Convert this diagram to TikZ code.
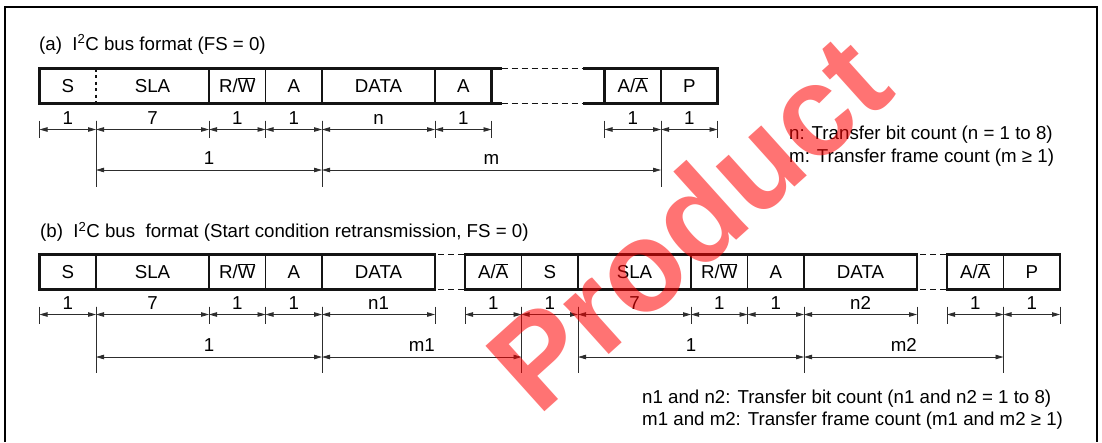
\documentclass[tikz,border=0pt]{standalone}
\usepackage{fontspec}
\setmainfont{Liberation Sans}
\usepackage{tikz}
\usetikzlibrary{arrows.meta,positioning,calc}
\definecolor{negro}{RGB}{20,20,20}
\definecolor{grisosc}{RGB}{45,45,45}
\definecolor{rojo}{RGB}{255,0,0}
\newcommand{\fuente}{\fontsize{18.7pt}{22pt}\selectfont}
\newcommand{\barra}[1]{$\overline{\mbox{#1}}$}
\tikzset{
  celda/.style={draw=negro,line width=1.2pt,minimum width=56.5pt,minimum height=35pt,inner sep=0pt,outer sep=0pt,text height=13.4pt,text depth=0pt},
  celdasin/.style={celda,draw=none},
  doble/.style={minimum width=113pt},
  contorno/.style={draw=negro,line width=2.2pt},
  punteada/.style={draw=negro,line width=1.6pt,dash pattern=on 3pt off 3.5pt},
  hueco/.style={draw=negro,line width=1pt,dash pattern=on 6pt off 4pt,dash phase=7pt},
  marco/.style={draw=black,line width=2.8pt},
  cota/.style={draw=grisosc,line width=0.8pt},
  flecha/.style={cota,{Triangle[length=8pt,width=4.5pt]}-{Triangle[length=8pt,width=4.5pt]}},
  etiqueta/.style={midway,anchor=base,yshift=5.5pt,inner sep=0pt},
  etiqueta2/.style={midway,anchor=base,yshift=6pt,inner sep=0pt},
  titulo/.style={anchor=base west,inner sep=0pt},
  nota/.style={anchor=base west,inner sep=0pt},
  marcaagua/.style={text=rojo,text opacity=0.55,font=\fontsize{128pt}{128pt}\selectfont\bfseries,rotate=42,inner sep=0pt}
}
\begin{document}
\begin{tikzpicture}[x=1pt,y=-1pt,font=\fuente]
\useasboundingbox (0,0) rectangle (1102,442);
\draw[marco] (5,442) -- (5,7) -- (1097,7) -- (1097,442);

\node[titulo] (tituloA) at (39,50) {(a)~~I\textsuperscript{2}C bus format (FS = 0)};
\node[celdasin,anchor=west] (a1) at (39.5,86) {S};
\node[celdasin,doble,right=0pt of a1] (a2) {SLA};
\node[celda,right=0pt of a2] (a3) {R/\barra{W}};
\node[celda,right=0pt of a3] (a4) {A};
\node[celda,doble,right=0pt of a4] (a5) {DATA};
\node[celda,right=0pt of a5] (a6) {A};
\node[celda,right=113pt of a6] (a7) {A/\barra{A}};
\node[celda,right=0pt of a7] (a8) {P};
\draw[contorno] (a1.north west) rectangle (a6.south east);
\draw[contorno] (a7.north west) rectangle (a8.south east);
\draw[punteada] (a2.north west) -- (a2.south west);
\draw[contorno] (a6.north east) -- ++(10,0) (a6.south east) -- ++(10,0);
\draw[contorno] (a7.north west) -- ++(-22,0) (a7.south west) -- ++(-22,0);
\draw[hueco,dash phase=0pt] ($(a6.north east)+(10,0)$) -- ($(a7.north west)+(-22,0)$)
  ($(a6.south east)+(10,0)$) -- ($(a7.south west)+(-22,0)$);

\coordinate (aSup) at (0,120.5);
\coordinate (aInf) at (0,137.5);
\coordinate (aCota) at (0,129.5);
\coordinate (aCota2) at (0,170);
\coordinate (aFin) at (0,186.5);
\foreach \c in {a1,a2,a3,a4,a5,a6,a7,a8}
  \draw[cota] (\c.west |- aSup) -- (\c.west |- aInf) (\c.east |- aSup) -- (\c.east |- aInf);
\foreach \c/\t in {a1/1,a2/7,a3/1,a4/1,a5/n,a6/1,a7/1,a8/1}
  \draw[flecha] (\c.west |- aCota) -- node[etiqueta]{\t} (\c.east |- aCota);
\foreach \c in {a2,a5,a8}
  \draw[cota] (\c.west |- aSup) -- (\c.west |- aFin);
\draw[flecha] (a2.west |- aCota2) -- node[etiqueta2]{1} (a5.west |- aCota2);
\draw[flecha] (a5.west |- aCota2) -- node[etiqueta2]{m} (a8.west |- aCota2);

\node[nota] (notaN) at (789,139.5) {n: Transfer bit count (n = 1 to 8)};
\node[nota] (notaM) at ([yshift=-22.5pt]notaN.base west) {m: Transfer frame count (m ≥ 1)};

\node[titulo] (tituloB) at (40,237.5) {(b)~~I\textsuperscript{2}C bus~~format (Start condition retransmission, FS = 0)};
\node[celda,anchor=west] (b1) at (39.5,272) {S};
\node[celda,doble,right=0pt of b1] (b2) {SLA};
\node[celda,right=0pt of b2] (b3) {R/\barra{W}};
\node[celda,right=0pt of b3] (b4) {A};
\node[celda,doble,right=0pt of b4] (b5) {DATA};
\node[celda,right=30pt of b5] (b6) {A/\barra{A}};
\node[celda,right=0pt of b6] (b7) {S};
\node[celda,doble,right=0pt of b7] (b8) {SLA};
\node[celda,right=0pt of b8] (b9) {R/\barra{W}};
\node[celda,right=0pt of b9] (b10) {A};
\node[celda,doble,right=0pt of b10] (b11) {DATA};
\node[celda,right=30pt of b11] (b12) {A/\barra{A}};
\node[celda,right=0pt of b12] (b13) {P};
\draw[contorno] (b1.north west) rectangle (b5.south east);
\draw[contorno] (b6.north west) rectangle (b11.south east);
\draw[contorno] (b12.north west) rectangle (b13.south east);
\draw[hueco] (b5.north east) -- (b6.north west) (b5.south east) -- (b6.south west);
\draw[hueco] (b11.north east) -- (b12.north west) (b11.south east) -- (b12.south west);

\coordinate (bSup) at (0,306.5);
\coordinate (bInf) at (0,323.5);
\coordinate (bCota) at (0,314.5);
\coordinate (bCota2) at (0,357);
\coordinate (bFin) at (0,372.5);
\foreach \c in {b1,b2,b3,b4,b5,b6,b7,b8,b9,b10,b11,b12,b13}
  \draw[cota] (\c.west |- bSup) -- (\c.west |- bInf) (\c.east |- bSup) -- (\c.east |- bInf);
\foreach \c/\t in {b1/1,b2/7,b3/1,b4/1,b5/n1,b6/1,b7/1,b8/7,b9/1,b10/1,b11/n2,b12/1,b13/1}
  \draw[flecha] (\c.west |- bCota) -- node[etiqueta]{\t} (\c.east |- bCota);
\foreach \c in {b2,b5,b7,b8,b11,b13}
  \draw[cota] (\c.west |- bSup) -- (\c.west |- bFin);
\draw[flecha] (b2.west |- bCota2) -- node[etiqueta2]{1} (b5.west |- bCota2);
\draw[flecha] (b5.west |- bCota2) -- node[etiqueta2]{m1} (b7.west |- bCota2);
\draw[flecha] (b8.west |- bCota2) -- node[etiqueta2]{1} (b11.west |- bCota2);
\draw[flecha] (b11.west |- bCota2) -- node[etiqueta2]{m2} (b13.west |- bCota2);

\node[nota] (notaN2) at (642,403.5) {n1 and n2: Transfer bit count (n1 and n2 = 1 to 8)};
\node[nota] (notaM2) at ([yshift=-22pt]notaN2.base west) {m1 and m2: Transfer frame count (m1 and m2 ≥ 1)};

\node[marcaagua] (marca) at (688,222) {Product};
\end{tikzpicture}
\end{document}
